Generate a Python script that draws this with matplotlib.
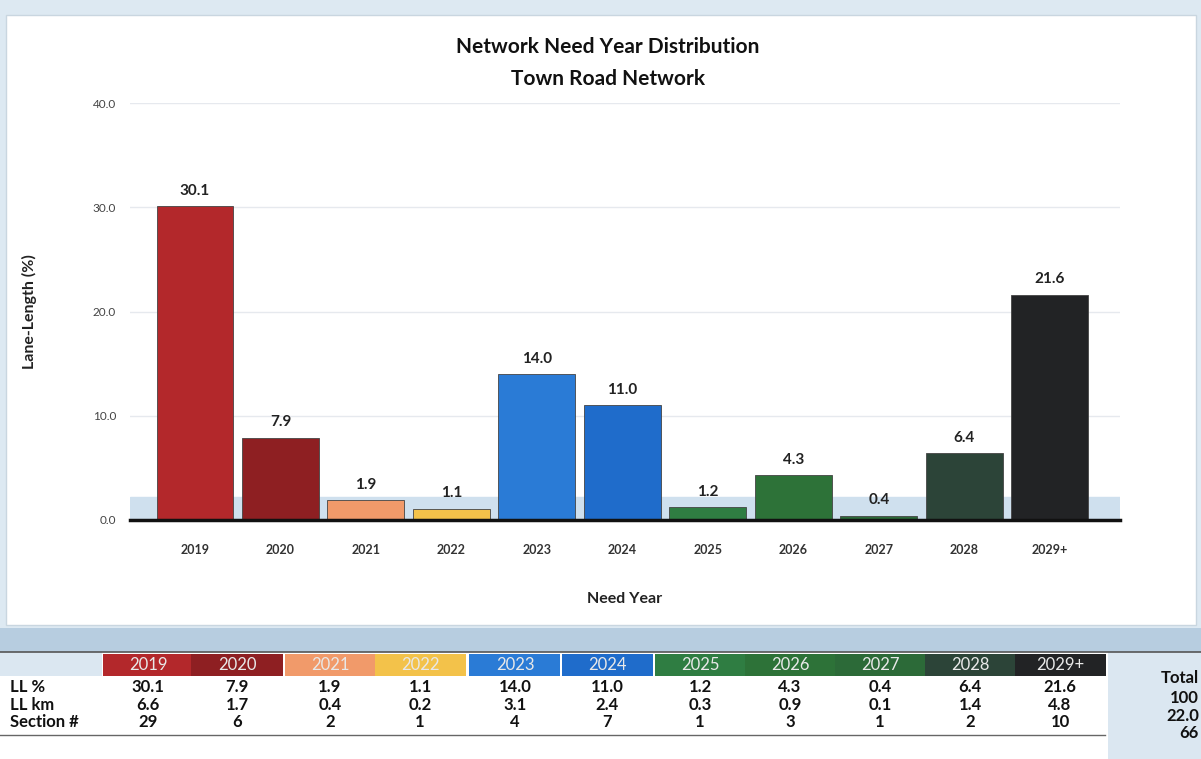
"""
Need year distribution chart for the town road network, with summary table.
"""
import matplotlib.pyplot as plt
from matplotlib.patches import Rectangle

plt.rcParams['font.family'] = ['Lato', 'DejaVu Sans']

# Datos de la red
years = ['2019', '2020', '2021', '2022', '2023', '2024', '2025', '2026', '2027', '2028', '2029+']
ll_pct = [30.1, 7.9, 1.9, 1.1, 14.0, 11.0, 1.2, 4.3, 0.4, 6.4, 21.6]
ll_km = [6.6, 1.7, 0.4, 0.2, 3.1, 2.4, 0.3, 0.9, 0.1, 1.4, 4.8]
sections = [29, 6, 2, 1, 4, 7, 1, 3, 1, 2, 10]
totals = ['100', '22.0', '66']
row_labels = ['LL %', 'LL km', 'Section #']

colors = ['#b3282b', '#8e1f22', '#f19a6a', '#f3c24a', '#2a7bd6', '#1f6ccb',
          '#2f7d42', '#2d7238', '#2c6a38', '#2c4438', '#222325']

W, H = 1201, 759
fig = plt.figure(figsize=(W / 100, H / 100), dpi=100)
fig.patch.set_facecolor('#dde9f2')


def fig_rect(x0, y0, w, h, **kw):
    # rectangulo en pixeles de la figura (origen arriba a la izquierda)
    r = Rectangle((x0 / W, 1 - (y0 + h) / H), w / W, h / H,
                  transform=fig.transFigure, **kw)
    fig.patches.append(r)
    return r


# Panel blanco del grafico
fig_rect(6, 15, 1190, 610, facecolor='white', edgecolor='#c9d6e0', linewidth=1, zorder=0)
# Fondo de la tabla
fig_rect(0, 652, W, 107, facecolor='white', edgecolor='none', zorder=0)
fig_rect(0, 652, 102, 24, facecolor='#dbe7f1', edgecolor='none', zorder=0)
fig_rect(1108, 652, 93, 107, facecolor='#dbe7f1', edgecolor='none', zorder=0)
fig_rect(0, 628, W, 24, facecolor='#b7cde0', edgecolor='none', zorder=1)

ax = fig.add_axes([130 / W, 1 - 520 / H, 990 / W, 417 / H])
ax.set_zorder(3)
ax.set_facecolor('none')
x = list(range(len(years)))

ax.axhspan(0, 2.2, color='#cfe0ee', zorder=1)
bars = ax.bar(x, ll_pct, width=0.9, color=colors, edgecolor='#444444',
              linewidth=0.6, zorder=2)
for b, v in zip(bars, ll_pct):
    ax.text(b.get_x() + b.get_width() / 2, v + 0.8, f'{v:.1f}', ha='center',
            va='bottom', fontsize=11, fontweight='bold', color='#222222', zorder=3)

ax.set_ylim(0, 40)
ax.set_xlim(-0.76, 10.82)
ax.set_yticks([0, 10, 20, 30, 40])
ax.set_yticklabels(['0.0', '10.0', '20.0', '30.0', '40.0'], fontsize=8.5, color='#444444')
ax.set_xticks(x)
ax.set_xticklabels(years, fontsize=9, fontweight='bold', color='#333333')
ax.tick_params(length=0, pad=17)
ax.tick_params(axis='y', pad=10)
ax.grid(axis='y', color='#e6e9ee', linewidth=1)
ax.set_axisbelow(True)
for s in ['top', 'right', 'left']:
    ax.spines[s].set_visible(False)
ax.spines['bottom'].set_linewidth(2.5)
ax.spines['bottom'].set_color('#111111')

ax.set_ylabel('Lane-Length (%)', fontsize=11.5, fontweight='bold', color='#222222', labelpad=40)
ax.set_xlabel('Need Year', fontsize=11.5, fontweight='bold', color='#222222', labelpad=26)

fig.text(608 / W, 1 - 47 / H, 'Network Need Year Distribution', ha='center', va='center',
         fontsize=15, fontweight='bold', color='#111111')
fig.text(608 / W, 1 - 79 / H, 'Town Road Network', ha='center', va='center',
         fontsize=15, fontweight='bold', color='#111111')

# Tabla resumen
col_x = [148, 237, 330, 420, 515, 607, 700, 790, 880, 970, 1060]
cell_w = 91
for cx, c, yr in zip(col_x, colors, years):
    fig_rect(cx - cell_w / 2, 654, cell_w, 22, facecolor=c, edgecolor='none', zorder=1)
    fig.text(cx / W, 1 - 665 / H, yr, ha='center', va='center', fontsize=12,
             color='#e8e8e8', zorder=2)

rows = [[f'{v:.1f}' for v in ll_pct], [f'{v:.1f}' for v in ll_km], [str(v) for v in sections]]
row_y = [687, 705, 722]
for lbl, vals, tot, ry in zip(row_labels, rows, totals, row_y):
    fig.text(10 / W, 1 - ry / H, lbl, ha='left', va='center', fontsize=12,
             fontweight='bold', color='#111111')
    for cx, v in zip(col_x, vals):
        fig.text(cx / W, 1 - ry / H, v, ha='center', va='center', fontsize=12,
                 fontweight='bold', color='#111111')
    fig.text(1199 / W, 1 - (ry + 11) / H, tot, ha='right', va='center', fontsize=12,
             fontweight='bold', color='#111111')
fig.text(1199 / W, 1 - 678 / H, 'Total', ha='right', va='center', fontsize=12,
         fontweight='bold', color='#111111')

fig.add_artist(plt.Line2D([0, 1], [1 - 652 / H, 1 - 652 / H], transform=fig.transFigure,
                          color='#555555', linewidth=1.2))
fig.add_artist(plt.Line2D([0, 1105 / W], [1 - 735 / H, 1 - 735 / H], transform=fig.transFigure,
                          color='#666666', linewidth=1))

fig.savefig('out.png', dpi=100)
